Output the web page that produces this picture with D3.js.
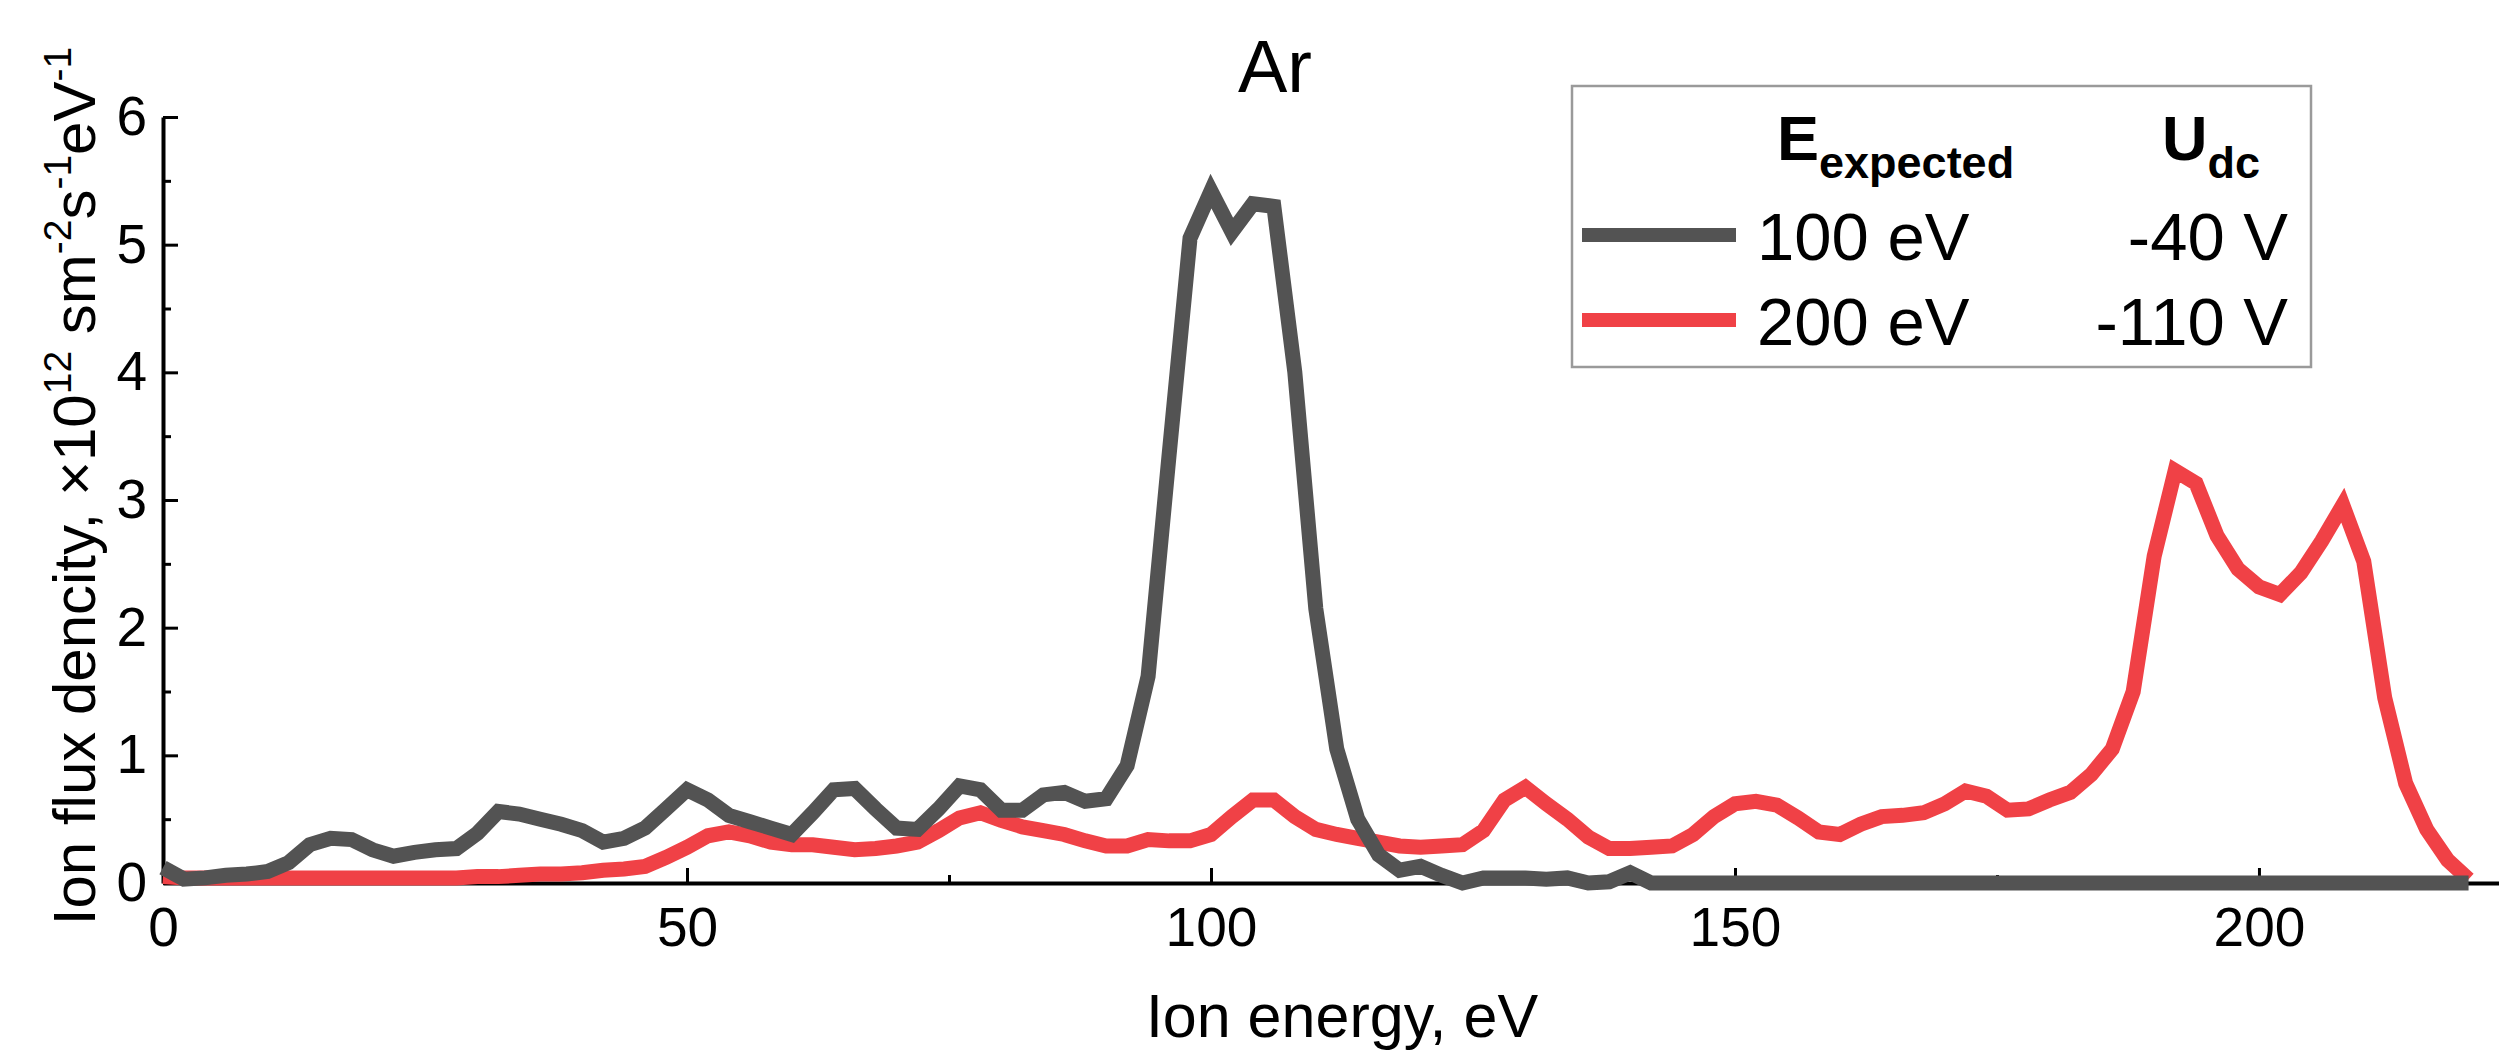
<!DOCTYPE html>
<html>
<head>
<meta charset="utf-8">
<script src="https://cdn.jsdelivr.net/npm/d3@7"></script>
<style>
  body { margin: 0; background: #fff; }
  svg { display: block; font-family: "Liberation Sans", Arial, Helvetica, sans-serif; }
</style>
</head>
<body>
<svg id="chart" width="2499" height="1060"></svg>
<script>
// ion energy grid, eV
var energy = [0,2,4,6,8,10,12,14,16,18,20,22,24,26,28,30,32,34,36,38,40,42,44,46,48,50,
  52,54,56,58,60,62,64,66,68,70,72,74,76,78,80,82,84,86,88,90,92,94,96,98,100,
  102,104,106,108,110,112,114,116,118,120,122,124,126,128,130,132,134,136,138,140,
  142,144,146,148,150,152,154,156,158,160,162,164,166,168,170,172,174,176,178,180,
  182,184,186,188,190,192,194,196,198,200,202,204,206,208,210,212,214,216,218,220];

// 100 eV expected (Udc = -40 V)
var flux100 = [0.12,0.03,0.04,0.06,0.07,0.09,0.16,0.30,0.35,0.34,0.26,0.21,0.24,0.26,0.27,0.39,
  0.56,0.54,0.50,0.46,0.41,0.32,0.35,0.43,0.58,0.73,0.65,0.53,0.48,0.43,0.38,0.55,0.73,0.74,
  0.58,0.43,0.42,0.58,0.76,0.73,0.57,0.57,0.69,0.71,0.64,0.66,0.92,1.62,3.35,5.05,5.42,5.10,
  5.32,5.30,4.00,2.15,1.05,0.50,0.22,0.10,0.13,0.06,0.00,0.04,0.04,0.04,0.03,0.04,0.00,0.01,
  0.08,0.00,0,0,0,0,0,0,0,0,0,0,0,0,0,0,0,0,0,0,0,0,0,0,0,0,0,0,0,0,0,0,0,0,0,0,0,0,0,0,0];

// 200 eV expected (Udc = -110 V)
var flux200 = [0.05,0.04,0.04,0.04,0.04,0.04,0.04,0.04,0.04,0.04,0.04,0.04,0.04,0.04,0.04,0.05,
  0.05,0.06,0.07,0.07,0.08,0.10,0.11,0.13,0.20,0.28,0.37,0.40,0.37,0.32,0.30,0.30,0.28,0.26,
  0.27,0.29,0.32,0.41,0.51,0.55,0.49,0.44,0.41,0.38,0.33,0.29,0.29,0.34,0.33,0.33,0.38,0.52,
  0.65,0.65,0.52,0.42,0.38,0.35,0.32,0.29,0.28,0.29,0.30,0.41,0.65,0.75,0.62,0.50,0.36,0.27,
  0.27,0.28,0.29,0.38,0.52,0.62,0.64,0.61,0.51,0.40,0.38,0.46,0.52,0.53,0.55,0.62,0.72,0.68,
  0.57,0.58,0.65,0.71,0.85,1.05,1.50,2.56,3.23,3.13,2.72,2.46,2.32,2.26,2.43,2.68,2.96,2.52,
  1.45,0.78,0.42,0.18,0.03];

var xMajor = [0, 50, 100, 150, 200];
var xMinor = [25, 75, 125, 175];
var yMajor = [0, 1, 2, 3, 4, 5, 6];
var yMinor = [0.5, 1.5, 2.5, 3.5, 4.5, 5.5];

var legendEnergy = ["100 eV", "200 eV"];
var legendUdc = ["-40 V", "-110 V"];
var colors = ["#535353", "#f04146"];

var svg = d3.select("#chart");

var x = d3.scaleLinear().domain([0, 223]).range([163, 2500]);
var y = d3.scaleLinear().domain([0, 6]).range([883, 117]);

// axes, ticks point inward
svg.append("g")
  .attr("transform", "translate(0," + y(0) + ")")
  .call(d3.axisBottom(x).tickValues(xMajor).tickSize(-15).tickSizeOuter(0).tickPadding(24).tickFormat(d3.format("d")));
svg.append("g")
  .attr("transform", "translate(0," + y(0) + ")")
  .call(d3.axisBottom(x).tickValues(xMinor).tickSize(-8).tickFormat(""))
  .select(".domain").remove();

svg.append("g")
  .attr("transform", "translate(" + x(0) + ",0)")
  .call(d3.axisLeft(y).tickValues(yMajor).tickSize(-15).tickSizeOuter(0).tickPadding(16).tickFormat(d3.format("d")));
svg.append("g")
  .attr("transform", "translate(" + x(0) + ",0)")
  .call(d3.axisLeft(y).tickValues(yMinor).tickSize(-8).tickFormat(""))
  .select(".domain").remove();

svg.selectAll(".domain").attr("stroke", "#000").attr("stroke-width", 4);
svg.selectAll(".tick line").attr("stroke", "#000").attr("stroke-width", 3);
svg.selectAll(".tick text")
  .attr("font-size", 55)
  .attr("fill", "#000")
  .attr("font-family", "Liberation Sans, Arial, sans-serif");

// curves
var line = d3.line()
  .x(function(d, i) { return x(energy[i]); })
  .y(function(d) { return y(d); });

[flux200, flux100].forEach(function(series, k) {
  svg.append("path")
    .datum(series)
    .attr("d", line)
    .attr("fill", "none")
    .attr("stroke", k == 0 ? colors[1] : colors[0])
    .attr("stroke-width", 15)
    .attr("stroke-linejoin", "miter")
    .attr("stroke-miterlimit", 4);
});

// title
svg.append("text")
  .attr("x", 1275).attr("y", 92)
  .attr("text-anchor", "middle")
  .attr("font-size", 74)
  .text("Ar");

// x label
svg.append("text")
  .attr("x", 1342).attr("y", 1037)
  .attr("text-anchor", "middle")
  .attr("font-size", 61)
  .text("Ion energy, eV");

// y label with superscripts
var ylab = svg.append("text")
  .attr("transform", "translate(95,486) rotate(-90)")
  .attr("text-anchor", "middle")
  .attr("font-size", 60);
var parts = [["Ion flux dencity, \u00d710", 0], ["12", 1], [" sm", 0], ["-2", 1], ["s", 0], ["-1", 1], ["eV", 0], ["-1", 1]];
var lifted = false;
parts.forEach(function(p) {
  var dy = 0;
  if (p[1] && !lifted) { dy = -24; lifted = true; }
  else if (!p[1] && lifted) { dy = 24; lifted = false; }
  ylab.append("tspan")
    .attr("dy", dy)
    .attr("font-size", p[1] ? 39 : 60)
    .text(p[0]);
});

// legend
var lg = svg.append("g");
lg.append("rect")
  .attr("x", 1572).attr("y", 86)
  .attr("width", 739).attr("height", 281)
  .attr("fill", "#fff")
  .attr("stroke", "#9a9a9a")
  .attr("stroke-width", 2.5);

var h1 = lg.append("text").attr("x", 1777).attr("y", 160).attr("font-weight", "bold").attr("font-size", 63);
h1.append("tspan").text("E");
h1.append("tspan").attr("dy", 18).attr("font-size", 45).text("expected");
var h2 = lg.append("text").attr("x", 2162).attr("y", 160).attr("font-weight", "bold").attr("font-size", 63);
h2.append("tspan").text("U");
h2.append("tspan").attr("dy", 18).attr("font-size", 45).text("dc");

var rowY = [235, 320];
legendEnergy.forEach(function(lab, i) {
  lg.append("line")
    .attr("x1", 1582).attr("x2", 1736)
    .attr("y1", rowY[i]).attr("y2", rowY[i])
    .attr("stroke", colors[i])
    .attr("stroke-width", 14);
  lg.append("text")
    .attr("x", 1757).attr("y", rowY[i] + 25)
    .attr("font-size", 67)
    .text(lab);
  lg.append("text")
    .attr("x", 2288).attr("y", rowY[i] + 25)
    .attr("text-anchor", "end")
    .attr("font-size", 67)
    .text(legendUdc[i]);
});
</script>
</body>
</html>
